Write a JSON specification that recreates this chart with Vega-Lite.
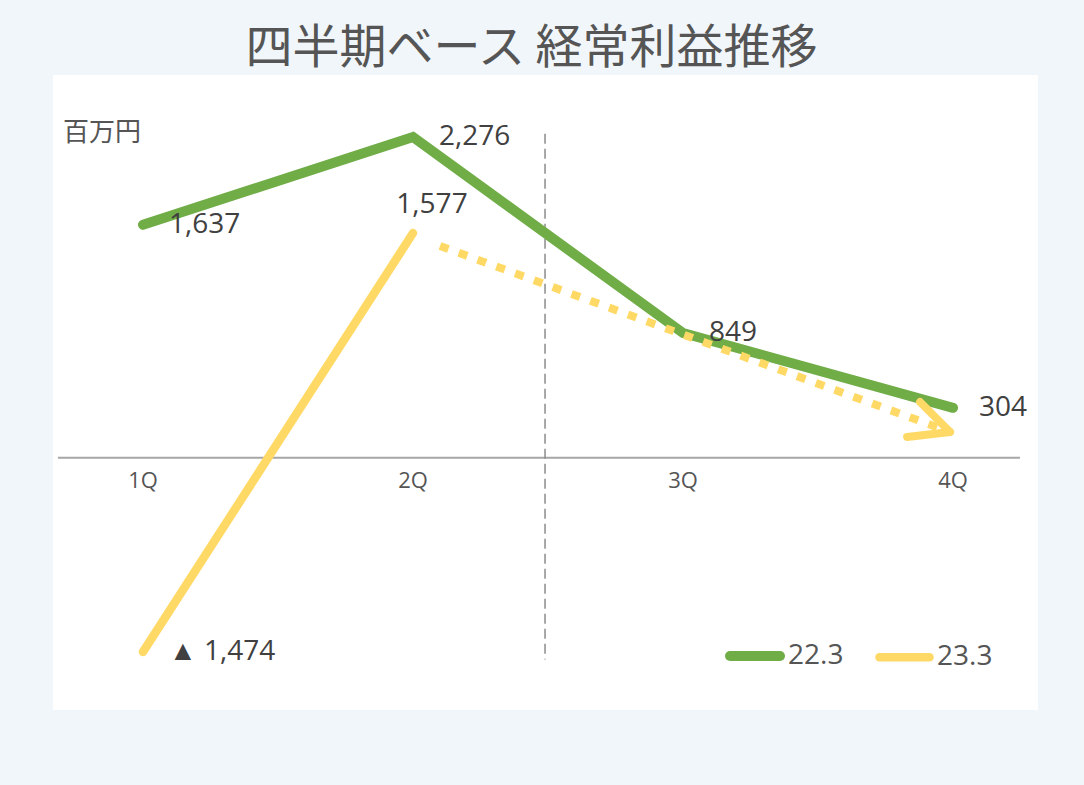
{
  "$schema": "https://vega.github.io/schema/vega-lite/v6.json",
  "width": 985,
  "height": 635,
  "autosize": {"type": "none"},
  "padding": {"left": 53, "top": 75, "right": 46, "bottom": 75},
  "background": "#f1f6fb",
  "view": {"fill": "white", "stroke": null},
  "title": {"text": "四半期ベース 経常利益推移", "font": "Noto Sans CJK JP", "fontSize": 47, "fontWeight": "normal", "color": "#555555", "anchor": "middle", "dx": -14, "offset": 2},
  "datasets": {
    "profit": [
      {"series": "22.3", "quarter": "1Q", "q": 1, "value": 1637, "label": "1,637"},
      {"series": "22.3", "quarter": "2Q", "q": 2, "value": 2276, "label": "2,276"},
      {"series": "22.3", "quarter": "3Q", "q": 3, "value": 849, "label": "849"},
      {"series": "22.3", "quarter": "4Q", "q": 4, "value": 304, "label": "304"},
      {"series": "23.3", "quarter": "1Q", "q": 1, "value": -1474, "label": "▲ 1,474"},
      {"series": "23.3", "quarter": "2Q", "q": 2, "value": 1577, "label": "1,577"}
    ],
    "quarters": [
      {"quarter": "1Q", "q": 1},
      {"quarter": "2Q", "q": 2},
      {"quarter": "3Q", "q": 3},
      {"quarter": "4Q", "q": 4}
    ],
    "arrow": [
      {"part": "shaft", "xa": 2.100, "ya": 1483, "xb": 3.970, "yb": 142},
      {"part": "head", "xa": 3.878, "ya": 346, "xb": 3.989, "yb": 128},
      {"part": "head", "xa": 3.830, "ya": 92, "xb": 3.989, "yb": 128}
    ],
    "one": [{"unit": "百万円"}]
  },
  "layer": [
    {
      "data": {"name": "one"},
      "mark": {"type": "rule", "color": "#a6a6a6", "strokeWidth": 2},
      "encoding": {
        "x": {"datum": 0.685, "type": "quantitative", "scale": {"domain": [0.6667, 4.3148], "nice": false, "zero": false}, "axis": null},
        "x2": {"datum": 4.248},
        "y": {"datum": -60, "type": "quantitative", "scale": {"domain": [-1897, 2728], "nice": false, "zero": false}, "axis": null}
      }
    },
    {
      "data": {"name": "one"},
      "mark": {"type": "rule", "color": "#8c8c8c", "strokeWidth": 1.5, "strokeDash": [10, 5]},
      "encoding": {
        "x": {"datum": 2.489, "type": "quantitative", "scale": {"domain": [0.6667, 4.3148], "nice": false, "zero": false}, "axis": null},
        "y": {"datum": 2300, "type": "quantitative", "scale": {"domain": [-1897, 2728], "nice": false, "zero": false}, "axis": null},
        "y2": {"datum": -1530}
      }
    },
    {
      "data": {"name": "quarters"},
      "mark": {"type": "text", "font": "Open Sans", "fontSize": 22, "color": "#555555", "align": "center", "baseline": "middle", "dy": 23},
      "encoding": {
        "x": {"field": "q", "type": "quantitative", "scale": {"domain": [0.6667, 4.3148], "nice": false, "zero": false}, "axis": null},
        "y": {"datum": -60, "type": "quantitative", "scale": {"domain": [-1897, 2728], "nice": false, "zero": false}, "axis": null},
        "text": {"field": "quarter"}
      }
    },
    {
      "data": {"name": "one"},
      "mark": {"type": "text", "font": "Noto Sans CJK JP", "fontSize": 26, "color": "#555555", "align": "left", "baseline": "middle"},
      "encoding": {
        "x": {"datum": 0.704, "type": "quantitative", "scale": {"domain": [0.6667, 4.3148], "nice": false, "zero": false}, "axis": null},
        "y": {"datum": 2309, "type": "quantitative", "scale": {"domain": [-1897, 2728], "nice": false, "zero": false}, "axis": null},
        "text": {"field": "unit"}
      }
    },
    {
      "data": {"name": "profit"},
      "mark": {"type": "line", "strokeCap": "round", "strokeJoin": "miter"},
      "encoding": {
        "x": {"field": "q", "type": "quantitative", "scale": {"domain": [0.6667, 4.3148], "nice": false, "zero": false}, "axis": null},
        "y": {"field": "value", "type": "quantitative", "scale": {"domain": [-1897, 2728], "nice": false, "zero": false}, "axis": null},
        "strokeWidth": {"field": "series", "type": "nominal", "scale": {"domain": ["22.3", "23.3"], "range": [10, 8.5]}},
        "color": {
          "field": "series", "type": "nominal",
          "scale": {"domain": ["22.3", "23.3"], "range": ["#70ad47", "#ffd966"]},
          "legend": {
            "title": null, "orient": "none", "legendX": 672, "legendY": 551, "direction": "horizontal",
            "symbolType": "stroke", "symbolSize": 2500,
            "labelFont": "Open Sans", "labelFontSize": 28, "labelColor": "#555555", "labelOffset": 3,
            "columnPadding": 18, "padding": 0,
            "encode": {"symbols": {"update": {"strokeCap": {"value": "round"}}}}
          }
        }
      }
    },
    {
      "data": {"name": "arrow"},
      "transform": [{"filter": "datum.part === 'shaft'"}],
      "mark": {"type": "rule", "color": "#ffd966", "strokeWidth": 8, "strokeDash": [9, 11], "strokeCap": "butt"},
      "encoding": {
        "x": {"field": "xa", "type": "quantitative", "scale": {"domain": [0.6667, 4.3148], "nice": false, "zero": false}, "axis": null},
        "y": {"field": "ya", "type": "quantitative", "scale": {"domain": [-1897, 2728], "nice": false, "zero": false}, "axis": null},
        "x2": {"field": "xb"},
        "y2": {"field": "yb"}
      }
    },
    {
      "data": {"name": "arrow"},
      "transform": [{"filter": "datum.part === 'head'"}],
      "mark": {"type": "rule", "color": "#ffd966", "strokeWidth": 8, "strokeCap": "round"},
      "encoding": {
        "x": {"field": "xa", "type": "quantitative", "scale": {"domain": [0.6667, 4.3148], "nice": false, "zero": false}, "axis": null},
        "y": {"field": "ya", "type": "quantitative", "scale": {"domain": [-1897, 2728], "nice": false, "zero": false}, "axis": null},
        "x2": {"field": "xb"},
        "y2": {"field": "yb"}
      }
    },
    {
      "data": {"name": "profit"},
      "transform": [{"filter": "datum.label !== '1,577'"}],
      "mark": {"type": "text", "font": "Open Sans", "fontSize": 28, "color": "#404040", "align": "left", "baseline": "middle", "dx": 26},
      "encoding": {
        "x": {"field": "q", "type": "quantitative", "scale": {"domain": [0.6667, 4.3148], "nice": false, "zero": false}, "axis": null},
        "y": {"field": "value", "type": "quantitative", "scale": {"domain": [-1897, 2728], "nice": false, "zero": false}, "axis": null},
        "text": {"field": "label"}
      }
    },
    {
      "data": {"name": "profit"},
      "transform": [{"filter": "datum.label === '1,577'"}],
      "mark": {"type": "text", "font": "Open Sans", "fontSize": 28, "color": "#404040", "align": "center", "baseline": "middle", "dx": 19, "dy": -28},
      "encoding": {
        "x": {"field": "q", "type": "quantitative", "scale": {"domain": [0.6667, 4.3148], "nice": false, "zero": false}, "axis": null},
        "y": {"field": "value", "type": "quantitative", "scale": {"domain": [-1897, 2728], "nice": false, "zero": false}, "axis": null},
        "text": {"field": "label"}
      }
    }
  ]
}
